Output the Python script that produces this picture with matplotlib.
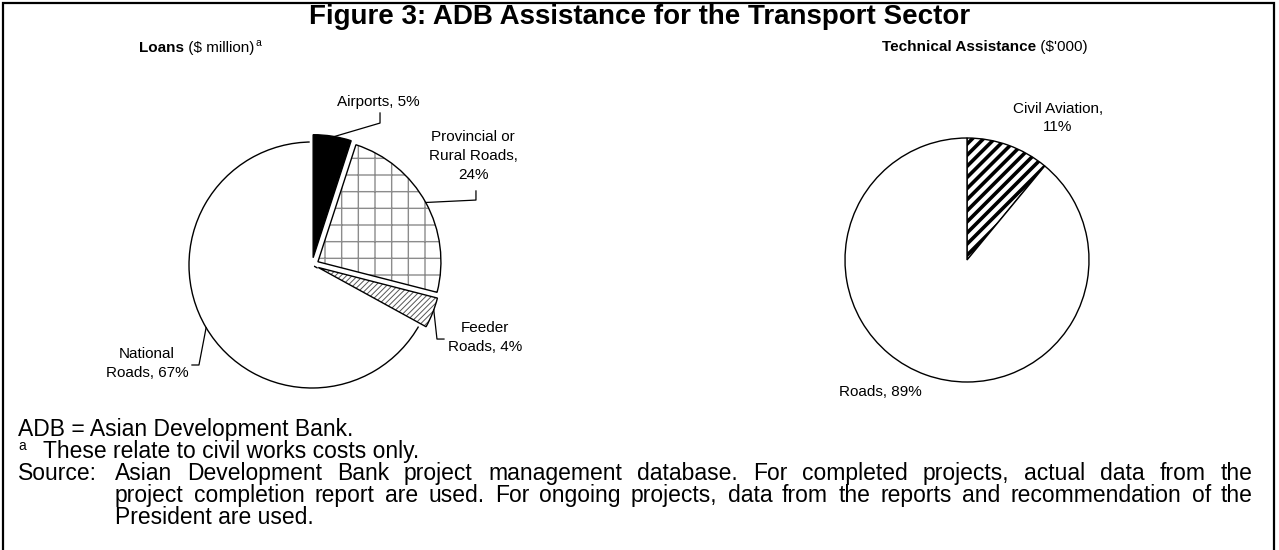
import numpy as np
import matplotlib
matplotlib.use("Agg")
import matplotlib.pyplot as plt
from matplotlib.patches import Rectangle
import matplotlib.patheffects as pe

plt.rcParams['font.family'] = ['Liberation Sans', 'DejaVu Sans']

# ---------------- data ----------------
title = "Figure 3: ADB Assistance for the Transport Sector"
loan_labels = ["Airports", "Provincial or\nRural Roads", "Feeder\nRoads", "National\nRoads"]
loan_values = [5, 24, 4, 67]
ta_labels = ["Civil Aviation", "Roads"]
ta_values = [11, 89]
footer_abbrev = "ADB = Asian Development Bank."
footer_note = "These relate to civil works costs only."
footer_source_lines = [
    "Asian Development Bank project management database. For completed projects, actual data from the",
    "project completion report are used. For ongoing projects, data from the reports and recommendation of the",
    "President are used.",
]

W, H = 1279, 550
fig = plt.figure(figsize=(W / 100, H / 100), dpi=100)
renderer = fig.canvas.get_renderer()


def fx(x):
    return x / W


def fy(y):
    return 1 - y / H


# border (bottom edge lies outside the picture)
fig.patches.append(Rectangle((fx(3), fy(560)), fx(1271), (560 - 3) / H,
                             transform=fig.transFigure, fill=False,
                             edgecolor='black', linewidth=1.6))

fig.text(fx(640), fy(17), title, ha='center', va='center',
         fontsize=20, fontweight='bold')


def measure(t, fs, wt='normal'):
    tt = fig.text(0, 0, t, fontsize=fs, fontweight=wt)
    w = tt.get_window_extent(renderer).width
    tt.remove()
    return w


def runs(items, x, y, ha='left'):
    """items: list of (text, fontsize, weight, dy_px). x,y in px (baseline)."""
    widths = [measure(t, fs, wt) for t, fs, wt, dy in items]
    total = sum(widths)
    cx = x - total / 2 if ha == 'center' else x
    for (t, fs, wt, dy), w in zip(items, widths):
        fig.text(fx(round(cx)), fy(y + dy), t, fontsize=fs, fontweight=wt,
                 ha='left', va='baseline')
        cx += w


SUB_FS = 11
runs([("Loans", SUB_FS, 'bold', 0), (" ($ million)", SUB_FS, 'normal', 0),
      ("a", 7.5, 'normal', -6)], 200, 52, ha='center')
runs([("Technical Assistance", SUB_FS, 'bold', 0), (" ($'000)", SUB_FS, 'normal', 0)],
     985, 51, ha='center')

LABEL_FS = 11
LSP = 1.45


def pie_axes(cx, cy, half=170):
    return fig.add_axes([fx(cx - half), fy(cy + half), 2 * half / W, 2 * half / H])


def fix_limits(ax, r, half=170):
    lim = half / r
    ax.set_xlim(-lim, lim)
    ax.set_ylim(-lim, lim)
    ax.axis('off')


def anchor(w, frac=0.5):
    th = np.deg2rad(w.theta1 + (w.theta2 - w.theta1) * frac)
    cx, cy = w.center
    return cx + w.r * np.cos(th), cy + w.r * np.sin(th)


# ---------------- Loans pie ----------------
R1 = 123.0
axL = pie_axes(312, 265)
explode = [0.06, 0.055, 0.055, 0.0]
fills = ['black', 'white', 'white', 'white']
hatches = [None, '+', '//////', None]
hatch_cols = ['black', '#8c8c8c', '#555555', 'black']
hatch_lws = [0.5, 1.0, 0.7, 0.5]
wb, _ = axL.pie(loan_values, startangle=90, counterclock=False, explode=explode,
                colors=fills, wedgeprops=dict(linewidth=0))
halo = [pe.Stroke(linewidth=5, foreground='white'), pe.Normal()]
for i, (w, h, hc, lw) in enumerate(zip(wb, hatches, hatch_cols, hatch_lws)):
    w.set_edgecolor(hc)
    w.set_linewidth(0)
    if h:
        w.set_hatch(h)
        if hasattr(w, 'set_hatch_linewidth'):
            w.set_hatch_linewidth(lw)
    w.set_zorder(2 if explode[i] > 0 else 1)
wt, _ = axL.pie(loan_values, startangle=90, counterclock=False, explode=explode,
                colors=['none'] * 4, wedgeprops=dict(linewidth=1.0, edgecolor='black'))
for i, w in enumerate(wt):
    w.set_zorder(1.5 if explode[i] == 0 else 3)
for i, w in enumerate(wb):
    if explode[i] > 0:
        w.set_path_effects(halo)
fix_limits(axL, R1)

lk = dict(color='black', lw=0.9, zorder=4)
# Airports
a = anchor(wt[0], 0.45)
axL.plot([a[0], 0.553, 0.553], [a[1], 1.154, 1.236], **lk)
axL.text(0.537, 1.325, f"{loan_labels[0]}, {loan_values[0]}%", ha='center', va='center',
         fontsize=LABEL_FS)
# Provincial
a = anchor(wt[1], 0.5)
axL.plot([a[0], 1.333, 1.333], [a[1], 0.528, 0.602], **lk)
axL.text(1.309, 0.886, f"{loan_labels[1]},\n{loan_values[1]}%", ha='center', va='center',
         fontsize=LABEL_FS, linespacing=LSP)
# Feeder
a = anchor(wt[2], 0.6)
axL.plot([a[0], 1.016, 1.073], [a[1], -0.602, -0.602], **lk)
axL.text(1.407, -0.593, f"{loan_labels[2]}, {loan_values[2]}%",
         ha='center', va='center', fontsize=LABEL_FS, linespacing=LSP)
# National
a = anchor(wt[3], 0.5)
axL.plot([a[0], -0.919, -0.976], [a[1], -0.813, -0.813], **lk)
axL.text(-1.341, -0.801, f"{loan_labels[3]}, {loan_values[3]}%", ha='center', va='center',
         fontsize=LABEL_FS, linespacing=LSP)

# ---------------- TA pie ----------------
R2 = 122.0
axR = pie_axes(967, 260)
wr, _ = axR.pie(ta_values, startangle=90, counterclock=False,
                colors=['white', 'white'], wedgeprops=dict(linewidth=1.0, edgecolor='black'))
wr[0].set_hatch('///')
if hasattr(wr[0], 'set_hatch_linewidth'):
    wr[0].set_hatch_linewidth(2.6)
fix_limits(axR, R2)
axR.text(0.746, 1.164, f"{ta_labels[0]},\n{ta_values[0]}%", ha='center', va='center',
         fontsize=LABEL_FS, linespacing=LSP)
axR.text(-0.713, -1.082, f"{ta_labels[1]}, {ta_values[1]}%", ha='center', va='center',
         fontsize=LABEL_FS)

# ---------------- footer ----------------
FS = 16.5
LEFT, NOTE_X, INDENT, RIGHT = 18, 43, 115, 1253
LS = 22
base0 = 436

fig.text(fx(LEFT), fy(base0), footer_abbrev, fontsize=FS, va='baseline')
fig.text(fx(LEFT), fy(base0 + LS - 8), "a", fontsize=10, va='baseline')
fig.text(fx(NOTE_X), fy(base0 + LS), footer_note, fontsize=FS, va='baseline')
fig.text(fx(LEFT), fy(base0 + 2 * LS), "Source:", fontsize=FS, va='baseline')

avail = RIGHT - INDENT
for i, line in enumerate(footer_source_lines):
    y = base0 + (2 + i) * LS
    ln = line.split()
    if i == len(footer_source_lines) - 1:
        fig.text(fx(INDENT), fy(y), line, fontsize=FS, va='baseline')
        continue
    ws = [measure(wd, FS) for wd in ln]
    gap = (avail - sum(ws)) / (len(ln) - 1)
    x = INDENT
    for wd, w in zip(ln, ws):
        fig.text(fx(round(x)), fy(y), wd, fontsize=FS, va='baseline')
        x += w + gap

fig.savefig("out.png", dpi=100)
